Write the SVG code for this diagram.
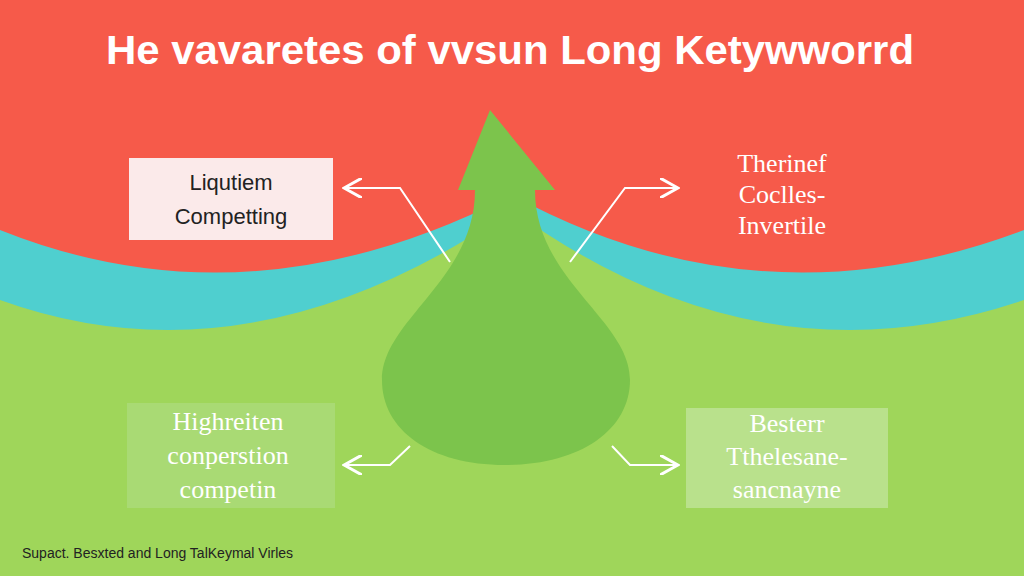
<svg xmlns="http://www.w3.org/2000/svg" width="1024" height="576" viewBox="0 0 1024 576">
<defs>
<style>
.t{font-family:"Liberation Sans",Arial,sans-serif;fill:#222}
.s{font-family:"Liberation Serif","Times New Roman",serif;fill:#222}
.c{stroke:#fff;stroke-width:2;fill:none}
</style>
<marker id="a" markerWidth="10" markerHeight="10" refX="8" refY="5" orient="auto"><path d="M0,0L9,5L0,10" fill="none" stroke="#fff" stroke-width="1.5"/></marker>
</defs>
<rect width="1024" height="576" fill="#9fd65a"/>
<path d="M0,300 Q250,390 512,210 Q760,390 1024,300 L1024,0 L0,0Z" fill="#4fcfcf"/>
<path d="M0,230 Q250,330 512,195 Q760,330 1024,230 L1024,0 L0,0Z" fill="#f65a4a"/>
<text x="510" y="64" text-anchor="middle" class="t" font-size="41" font-weight="bold" style="fill:#fff" textLength="808" lengthAdjust="spacingAndGlyphs">He vavaretes of vvsun Long Ketywworrd</text>
<g id="tree"><path d="M490,110 L555,190 L535,190 C535,280 630,320 630,380 C630,430 580,465 505,465 C430,465 382,430 382,380 C382,320 475,280 475,190 L458,190Z" fill="#7cc44c"/></g>
<g id="n1"><rect x="129" y="158" width="204" height="82" fill="#fbeaea"/><text x="231" y="190" text-anchor="middle" class="t" font-size="22">Liqutiem</text><text x="231" y="224" text-anchor="middle" class="t" font-size="22">Competting</text></g>
<g id="n2"><text x="782" y="172" text-anchor="middle" class="s" font-size="26" style="fill:#fff">Therinef</text><text x="782" y="203" text-anchor="middle" class="s" font-size="26" style="fill:#fff">Coclles-</text><text x="782" y="234" text-anchor="middle" class="s" font-size="26" style="fill:#fff">Invertile</text></g>
<g id="n3"><rect x="127" y="403" width="208" height="105" fill="#b1dc85" opacity="0.6"/><text x="228" y="430" text-anchor="middle" class="s" font-size="26" style="fill:#fff">Highreiten</text><text x="228" y="464" text-anchor="middle" class="s" font-size="26" style="fill:#fff">conperstion</text><text x="228" y="498" text-anchor="middle" class="s" font-size="26" style="fill:#fff">competin</text></g>
<g id="n4"><rect x="686" y="408" width="202" height="100" fill="#b9e18c"/><text x="787" y="432" text-anchor="middle" class="s" font-size="26" style="fill:#fff">Besterr</text><text x="787" y="465" text-anchor="middle" class="s" font-size="26" style="fill:#fff">Tthelesane-</text><text x="787" y="498" text-anchor="middle" class="s" font-size="26" style="fill:#fff">sancnayne</text></g>
<g id="connectors">
<path class="c" d="M450,262 L400,188 L346,188" marker-end="url(#a)"/>
<path class="c" d="M570,262 L625,188 L676,188" marker-end="url(#a)"/>
<path class="c" d="M410,446 L390,465 L346,465" marker-end="url(#a)"/>
<path class="c" d="M612,446 L630,465 L676,465" marker-end="url(#a)"/>
</g>
<text x="22" y="558" class="t" font-size="14">Supact. Besxted and Long TalKeymal Virles</text>
</svg>
